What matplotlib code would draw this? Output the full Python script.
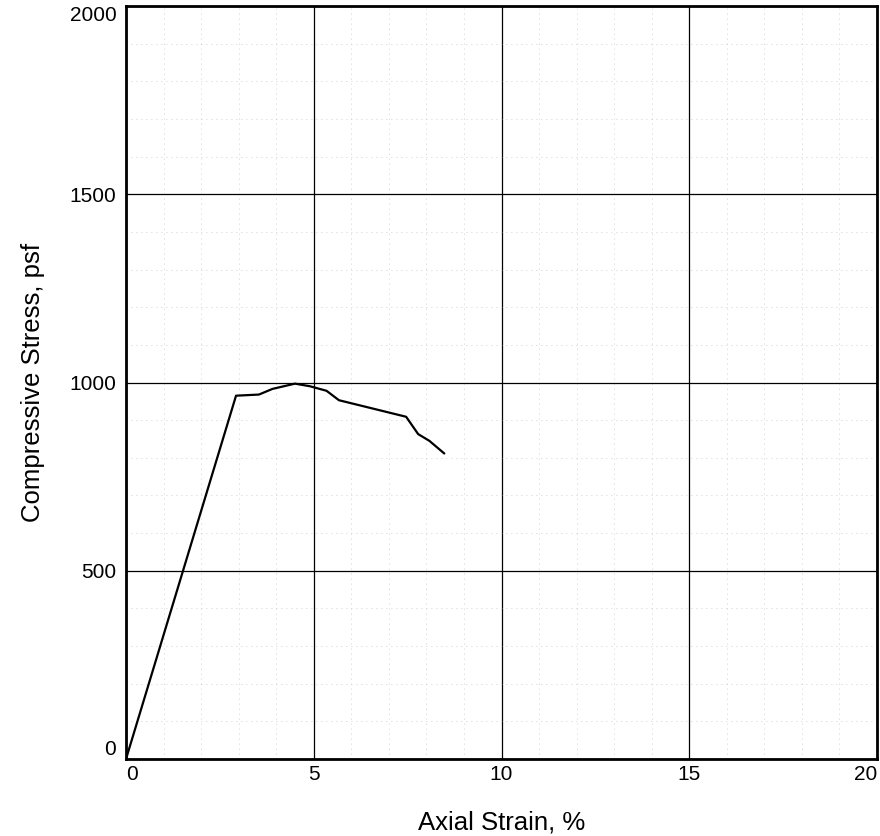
import matplotlib
matplotlib.use("Agg")
import matplotlib.pyplot as plt
from matplotlib.ticker import MultipleLocator

plt.rcParams['font.family'] = ['Liberation Sans', 'DejaVu Sans']

strain = [0.0, 2.93, 3.54, 3.9, 4.5, 4.9, 5.34, 5.67, 7.46, 7.78, 8.08, 8.47]
stress = [0, 965, 968, 983, 997, 990, 978, 953, 909, 863, 845, 812]

x_ticks = [0, 5, 10, 15, 20]
y_ticks = [0, 500, 1000, 1500, 2000]

fig = plt.figure(figsize=(8.8, 8.36), dpi=100)
ax = fig.add_axes([0.1432, 0.0921, 0.8534, 0.9007])

ax.plot(strain, stress, color='black', lw=1.6, zorder=3)

ax.set_xlim(0, 20)
ax.set_ylim(0, 2000)
ax.set_xticks(x_ticks)
ax.set_yticks(y_ticks)
ax.xaxis.set_minor_locator(MultipleLocator(1))
ax.yaxis.set_minor_locator(MultipleLocator(100))
ax.grid(which='major', color='black', lw=0.9)
ax.grid(which='minor', color='#c0c0c0', lw=0.6, linestyle=(0, (1, 5)))
ax.tick_params(which='both', length=0, labelsize=15)
ax.tick_params(axis='y', pad=7)
ax.tick_params(axis='x', pad=4)
for s in ax.spines.values():
    s.set_linewidth(2)

xl = ax.get_xticklabels()
xl[0].set_ha('left')
xl[-1].set_ha('right')
yl = ax.get_yticklabels()
yl[0].set_va('bottom')
yl[-1].set_va('top')

ax.set_xlabel('Axial Strain, %', fontsize=18.5)
ax.xaxis.set_label_coords(0.5, -0.068)
ax.set_ylabel('Compressive Stress, psf', fontsize=18.5)
ax.yaxis.set_label_coords(-0.108, 0.5)

fig.savefig('out.png', dpi=100)
